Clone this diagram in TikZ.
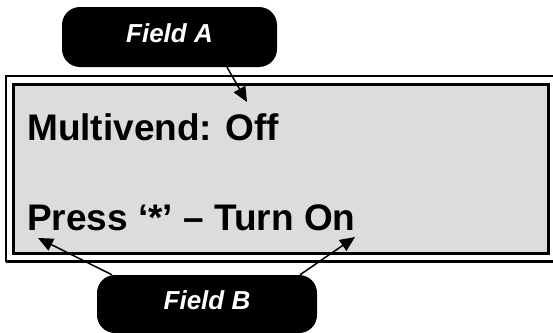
\documentclass[tikz,border=0pt]{standalone}
\usepackage{fontspec}
\setmainfont{Liberation Sans}
\usetikzlibrary{arrows.meta}
\definecolor{lcdgrey}{RGB}{220,220,220}
\tikzset{
	callout/.style={fill=black, rounded corners=18pt, text=white, inner sep=0pt, text depth=7pt,
		font=\fontsize{26}{26}\selectfont\bfseries\itshape},
	lcdtext/.style={anchor=base west, inner sep=0pt, font=\fontsize{37}{37}\selectfont\bfseries},
	pointer/.style={-{Triangle[length=15pt,width=13pt]}, line width=1.5pt}
}
\begin{document}
\begin{tikzpicture}[x=1pt, y=-1pt]
	\clip (0,0) rectangle (553,332);
	% display frame
	\draw[line width=2pt, fill=white] (6,75.5) rectangle (570,261);
	\draw[line width=3pt] (6,261.5)--(570,261.5);
	\draw[line width=3pt, fill=lcdgrey] (13.5,84) rectangle (548,253);
	\node[lcdtext] (status) at (27,140) {Multivend: Off};
	\node[lcdtext] (prompt) at (27,230) {Press ‘*’ – Turn On};
	%===
	\node[callout, minimum width=215pt, minimum height=60pt] (fieldA) at (169.5,37) {Field A};
	\node[callout, minimum width=220pt, minimum height=58pt] (fieldB) at (207,304) {Field B};
	\coordinate (tipA) at (247,102);
	\coordinate (tipB1) at (38,238);
	\coordinate (tipB2) at (355,237);
	\draw[pointer] ([xshift=57.5pt]fieldA.south)--(tipA);
	\draw[pointer] ([xshift=-95pt]fieldB.north)--(tipB1);
	\draw[pointer] ([xshift=93pt]fieldB.north)--(tipB2);
\end{tikzpicture}
\end{document}
